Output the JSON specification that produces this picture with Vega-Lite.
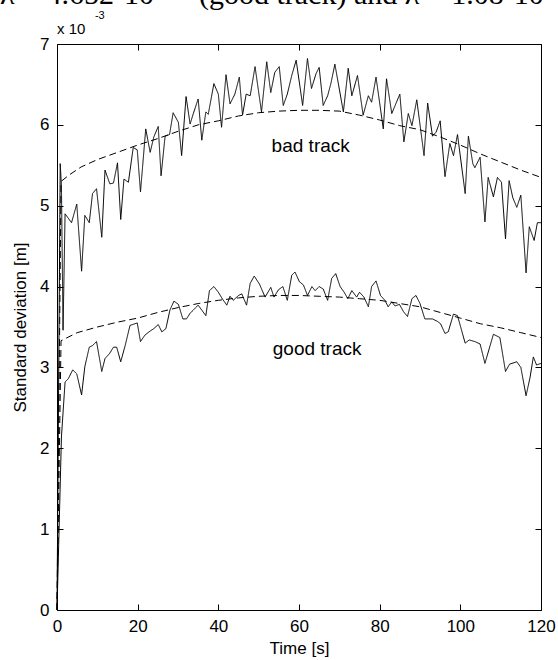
{
  "$schema": "https://vega.github.io/schema/vega-lite/v6.json",
  "width": 484,
  "height": 566,
  "autosize": {"type": "none"},
  "padding": {"left": 57, "top": 44, "right": 17, "bottom": 50},
  "background": "white",
  "title": {
    "text": "λ = 4.652·10\u00a0\u00a0\u00a0\u00a0\u00a0 (good track) and λ = 1.08·10",
    "anchor": "start",
    "frame": "group",
    "font": "Liberation Serif",
    "fontSize": 30,
    "fontWeight": "normal",
    "color": "black",
    "baseline": "alphabetic",
    "offset": 0,
    "dx": -57,
    "dy": 24
  },
  "config": {
    "view": {"stroke": null},
    "axis": {
      "domainColor": "black",
      "tickColor": "black",
      "labelColor": "black",
      "titleColor": "black",
      "labelFont": "Liberation Sans",
      "titleFont": "Liberation Sans",
      "labelFontSize": 17,
      "titleFontSize": 17,
      "titleFontWeight": "normal",
      "grid": false,
      "tickSize": -6,
      "domainWidth": 1,
      "tickWidth": 1
    }
  },
  "datasets": {
    "series": [
      {"s":"bad","t":0,"v":0},{"s":"bad","t":0.8,"v":5.52},{"s":"bad","t":1.1,"v":5.25},{"s":"bad","t":1.5,"v":3.46},{"s":"bad","t":2.0,"v":4.90},{"s":"bad","t":3.6,"v":4.79},{"s":"bad","t":4.9,"v":5.02},{"s":"bad","t":6.1,"v":4.19},{"s":"bad","t":6.9,"v":4.88},{"s":"bad","t":8.0,"v":4.79},{"s":"bad","t":8.8,"v":5.15},{"s":"bad","t":9.8,"v":5.21},{"s":"bad","t":11.1,"v":4.61},{"s":"bad","t":11.9,"v":5.44},{"s":"bad","t":13.1,"v":5.27},{"s":"bad","t":14.0,"v":5.28},{"s":"bad","t":15.0,"v":5.53},{"s":"bad","t":15.8,"v":4.83},{"s":"bad","t":16.6,"v":5.33},{"s":"bad","t":17.7,"v":5.29},{"s":"bad","t":18.9,"v":5.72},{"s":"bad","t":19.9,"v":5.69},{"s":"bad","t":20.7,"v":5.17},{"s":"bad","t":22.0,"v":5.95},{"s":"bad","t":23.1,"v":5.66},{"s":"bad","t":24.0,"v":5.85},{"s":"bad","t":25.1,"v":5.98},{"s":"bad","t":25.8,"v":5.37},{"s":"bad","t":26.8,"v":5.86},{"s":"bad","t":27.9,"v":5.88},{"s":"bad","t":28.8,"v":6.15},{"s":"bad","t":30.1,"v":6.03},{"s":"bad","t":30.9,"v":5.62},{"s":"bad","t":32.0,"v":6.35},{"s":"bad","t":33.0,"v":6.01},{"s":"bad","t":33.8,"v":6.14},{"s":"bad","t":35.0,"v":6.32},{"s":"bad","t":35.9,"v":5.81},{"s":"bad","t":36.9,"v":6.16},{"s":"bad","t":37.5,"v":6.13},{"s":"bad","t":38.9,"v":6.51},{"s":"bad","t":40.0,"v":6.38},{"s":"bad","t":40.8,"v":5.97},{"s":"bad","t":41.9,"v":6.62},{"s":"bad","t":42.9,"v":6.26},{"s":"bad","t":44.1,"v":6.38},{"s":"bad","t":45.2,"v":6.59},{"s":"bad","t":46.0,"v":6.12},{"s":"bad","t":46.9,"v":6.38},{"s":"bad","t":47.9,"v":6.36},{"s":"bad","t":49.1,"v":6.72},{"s":"bad","t":50.7,"v":6.16},{"s":"bad","t":52.0,"v":6.78},{"s":"bad","t":53.0,"v":6.40},{"s":"bad","t":54.0,"v":6.65},{"s":"bad","t":55.1,"v":6.72},{"s":"bad","t":56.1,"v":6.24},{"s":"bad","t":57.1,"v":6.38},{"s":"bad","t":58.2,"v":6.61},{"s":"bad","t":59.3,"v":6.80},{"s":"bad","t":60.9,"v":6.24},{"s":"bad","t":62.1,"v":6.82},{"s":"bad","t":63.1,"v":6.45},{"s":"bad","t":64.2,"v":6.63},{"s":"bad","t":65.0,"v":6.71},{"s":"bad","t":66.0,"v":6.24},{"s":"bad","t":67.1,"v":6.36},{"s":"bad","t":67.9,"v":6.51},{"s":"bad","t":68.9,"v":6.75},{"s":"bad","t":71.0,"v":6.16},{"s":"bad","t":72.2,"v":6.70},{"s":"bad","t":73.1,"v":6.36},{"s":"bad","t":74.5,"v":6.61},{"s":"bad","t":75.9,"v":6.12},{"s":"bad","t":77.2,"v":6.36},{"s":"bad","t":78.0,"v":6.28},{"s":"bad","t":79.1,"v":6.59},{"s":"bad","t":80.9,"v":5.95},{"s":"bad","t":81.7,"v":6.57},{"s":"bad","t":83.0,"v":6.14},{"s":"bad","t":85.0,"v":6.38},{"s":"bad","t":86.0,"v":5.79},{"s":"bad","t":87.1,"v":6.14},{"s":"bad","t":88.0,"v":5.99},{"s":"bad","t":89.2,"v":6.31},{"s":"bad","t":91.0,"v":5.62},{"s":"bad","t":91.9,"v":6.27},{"s":"bad","t":93.1,"v":5.86},{"s":"bad","t":94.0,"v":5.91},{"s":"bad","t":95.0,"v":6.05},{"s":"bad","t":96.2,"v":5.36},{"s":"bad","t":97.4,"v":5.77},{"s":"bad","t":98.3,"v":5.62},{"s":"bad","t":99.3,"v":5.88},{"s":"bad","t":101.2,"v":5.15},{"s":"bad","t":102.0,"v":5.86},{"s":"bad","t":103.1,"v":5.52},{"s":"bad","t":103.6,"v":5.47},{"s":"bad","t":104.9,"v":5.60},{"s":"bad","t":106.1,"v":4.80},{"s":"bad","t":106.9,"v":5.35},{"s":"bad","t":108.2,"v":5.11},{"s":"bad","t":109.2,"v":5.35},{"s":"bad","t":110.2,"v":5.29},{"s":"bad","t":111.2,"v":4.59},{"s":"bad","t":112.1,"v":5.31},{"s":"bad","t":113.0,"v":5.10},{"s":"bad","t":114.0,"v":4.98},{"s":"bad","t":115.0,"v":5.13},{"s":"bad","t":116.3,"v":4.17},{"s":"bad","t":117.1,"v":4.74},{"s":"bad","t":118.3,"v":4.57},{"s":"bad","t":119.1,"v":4.79},{"s":"bad","t":120.0,"v":4.79},
      {"s":"good","t":0,"v":0},{"s":"good","t":1.1,"v":2.14},{"s":"good","t":2.0,"v":2.82},{"s":"good","t":2.8,"v":2.86},{"s":"good","t":3.9,"v":2.97},{"s":"good","t":4.9,"v":2.92},{"s":"good","t":6.1,"v":2.66},{"s":"good","t":6.9,"v":3.01},{"s":"good","t":8.0,"v":3.25},{"s":"good","t":8.8,"v":3.27},{"s":"good","t":9.8,"v":3.32},{"s":"good","t":11.1,"v":2.95},{"s":"good","t":11.9,"v":3.11},{"s":"good","t":13.0,"v":3.17},{"s":"good","t":14.0,"v":3.25},{"s":"good","t":14.8,"v":3.25},{"s":"good","t":15.8,"v":3.07},{"s":"good","t":16.9,"v":3.27},{"s":"good","t":18.1,"v":3.52},{"s":"good","t":19.9,"v":3.55},{"s":"good","t":20.7,"v":3.32},{"s":"good","t":21.8,"v":3.40},{"s":"good","t":23.1,"v":3.45},{"s":"good","t":24.0,"v":3.48},{"s":"good","t":25.1,"v":3.53},{"s":"good","t":26.0,"v":3.44},{"s":"good","t":27.0,"v":3.48},{"s":"good","t":28.0,"v":3.71},{"s":"good","t":29.0,"v":3.82},{"s":"good","t":30.1,"v":3.78},{"s":"good","t":31.2,"v":3.60},{"s":"good","t":32.1,"v":3.60},{"s":"good","t":33.0,"v":3.67},{"s":"good","t":33.8,"v":3.71},{"s":"good","t":35.0,"v":3.77},{"s":"good","t":36.9,"v":3.64},{"s":"good","t":37.8,"v":3.95},{"s":"good","t":38.9,"v":4.00},{"s":"good","t":40.0,"v":3.93},{"s":"good","t":41.1,"v":3.84},{"s":"good","t":42.1,"v":3.77},{"s":"good","t":42.9,"v":3.88},{"s":"good","t":43.7,"v":3.83},{"s":"good","t":45.0,"v":3.89},{"s":"good","t":45.8,"v":3.91},{"s":"good","t":47.0,"v":3.77},{"s":"good","t":47.9,"v":4.04},{"s":"good","t":48.9,"v":4.13},{"s":"good","t":50.2,"v":4.03},{"s":"good","t":51.6,"v":3.87},{"s":"good","t":53.0,"v":3.99},{"s":"good","t":53.8,"v":3.87},{"s":"good","t":54.9,"v":3.96},{"s":"good","t":56.0,"v":4.00},{"s":"good","t":57.1,"v":3.83},{"s":"good","t":58.2,"v":4.14},{"s":"good","t":59.0,"v":4.18},{"s":"good","t":60.1,"v":4.06},{"s":"good","t":61.1,"v":4.02},{"s":"good","t":62.1,"v":3.89},{"s":"good","t":63.2,"v":4.00},{"s":"good","t":64.0,"v":3.95},{"s":"good","t":65.0,"v":4.00},{"s":"good","t":66.0,"v":3.97},{"s":"good","t":67.1,"v":3.83},{"s":"good","t":68.1,"v":4.10},{"s":"good","t":69.1,"v":4.16},{"s":"good","t":70.2,"v":4.00},{"s":"good","t":71.2,"v":3.93},{"s":"good","t":72.1,"v":3.85},{"s":"good","t":73.1,"v":3.95},{"s":"good","t":74.3,"v":3.87},{"s":"good","t":75.0,"v":3.93},{"s":"good","t":76.1,"v":3.87},{"s":"good","t":77.2,"v":3.75},{"s":"good","t":78.0,"v":4.00},{"s":"good","t":79.1,"v":4.07},{"s":"good","t":80.2,"v":3.89},{"s":"good","t":81.3,"v":3.83},{"s":"good","t":82.1,"v":3.75},{"s":"good","t":83.0,"v":3.81},{"s":"good","t":83.8,"v":3.76},{"s":"good","t":84.9,"v":3.78},{"s":"good","t":85.9,"v":3.69},{"s":"good","t":86.9,"v":3.63},{"s":"good","t":88.0,"v":3.85},{"s":"good","t":89.0,"v":3.89},{"s":"good","t":90.0,"v":3.79},{"s":"good","t":91.2,"v":3.60},{"s":"good","t":93.1,"v":3.60},{"s":"good","t":94.3,"v":3.57},{"s":"good","t":95.1,"v":3.54},{"s":"good","t":96.2,"v":3.42},{"s":"good","t":97.0,"v":3.44},{"s":"good","t":98.3,"v":3.66},{"s":"good","t":99.3,"v":3.64},{"s":"good","t":101.2,"v":3.30},{"s":"good","t":102.2,"v":3.34},{"s":"good","t":103.6,"v":3.32},{"s":"good","t":104.9,"v":3.29},{"s":"good","t":106.1,"v":3.05},{"s":"good","t":108.2,"v":3.41},{"s":"good","t":109.8,"v":3.37},{"s":"good","t":111.2,"v":2.95},{"s":"good","t":112.2,"v":3.04},{"s":"good","t":114.0,"v":3.07},{"s":"good","t":115.0,"v":3.00},{"s":"good","t":116.3,"v":2.65},{"s":"good","t":117.3,"v":2.88},{"s":"good","t":118.1,"v":3.13},{"s":"good","t":118.9,"v":3.03},{"s":"good","t":120.0,"v":3.05},
      {"s":"badFit","t":0,"v":0},{"s":"badFit","t":1,"v":5.30},{"s":"badFit","t":3,"v":5.38},{"s":"badFit","t":6,"v":5.48},{"s":"badFit","t":10,"v":5.57},{"s":"badFit","t":15,"v":5.66},{"s":"badFit","t":20,"v":5.75},{"s":"badFit","t":25,"v":5.83},{"s":"badFit","t":30,"v":5.92},{"s":"badFit","t":35,"v":6.00},{"s":"badFit","t":40,"v":6.05},{"s":"badFit","t":45,"v":6.11},{"s":"badFit","t":50,"v":6.15},{"s":"badFit","t":55,"v":6.17},{"s":"badFit","t":60,"v":6.18},{"s":"badFit","t":65,"v":6.18},{"s":"badFit","t":70,"v":6.17},{"s":"badFit","t":75,"v":6.12},{"s":"badFit","t":80,"v":6.06},{"s":"badFit","t":85,"v":5.99},{"s":"badFit","t":90,"v":5.94},{"s":"badFit","t":95,"v":5.85},{"s":"badFit","t":100,"v":5.75},{"s":"badFit","t":105,"v":5.64},{"s":"badFit","t":110,"v":5.54},{"s":"badFit","t":115,"v":5.44},{"s":"badFit","t":120,"v":5.35},
      {"s":"goodFit","t":0,"v":0},{"s":"goodFit","t":1,"v":3.33},{"s":"goodFit","t":5,"v":3.43},{"s":"goodFit","t":10,"v":3.50},{"s":"goodFit","t":15,"v":3.56},{"s":"goodFit","t":20,"v":3.61},{"s":"goodFit","t":25,"v":3.68},{"s":"goodFit","t":30,"v":3.74},{"s":"goodFit","t":35,"v":3.79},{"s":"goodFit","t":40,"v":3.83},{"s":"goodFit","t":45,"v":3.86},{"s":"goodFit","t":50,"v":3.88},{"s":"goodFit","t":55,"v":3.89},{"s":"goodFit","t":60,"v":3.89},{"s":"goodFit","t":65,"v":3.88},{"s":"goodFit","t":70,"v":3.87},{"s":"goodFit","t":75,"v":3.85},{"s":"goodFit","t":80,"v":3.83},{"s":"goodFit","t":85,"v":3.79},{"s":"goodFit","t":90,"v":3.75},{"s":"goodFit","t":95,"v":3.68},{"s":"goodFit","t":100,"v":3.61},{"s":"goodFit","t":105,"v":3.54},{"s":"goodFit","t":110,"v":3.49},{"s":"goodFit","t":115,"v":3.43},{"s":"goodFit","t":120,"v":3.37}
    ],
    "labels": [
      {"label": "bad track", "t": 62.9, "v": 5.66},
      {"label": "good track", "t": 64.5, "v": 3.15}
    ],
    "mult": [{"label": "x 10", "t": 0, "v": 7.12}],
    "expo": [{"label": "-3", "t": 9.4, "v": 7.31}]
  },
  "layer": [
    {
      "data": {"name": "series"},
      "mark": {"type": "line", "strokeWidth": 1, "color": "black"},
      "encoding": {
        "x": {"field": "t", "type": "quantitative", "scale": {"domain": [0, 120], "nice": false},
          "axis": {"orient": "bottom", "title": "Time [s]", "values": [0,20,40,60,80,100,120], "labelPadding": 14, "titlePadding": 6, "labelFlush": false, "labelOverlap": false}},
        "y": {"field": "v", "type": "quantitative", "scale": {"domain": [0, 7], "nice": false},
          "axis": {"orient": "left", "title": "Standard deviation [m]", "values": [0,1,2,3,4,5,6,7], "labelPadding": 14, "titlePadding": 10}},
        "detail": {"field": "s"},
        "strokeDash": {"field": "s", "type": "nominal", "legend": null,
          "scale": {"domain": ["bad", "badFit", "good", "goodFit"], "range": [[1, 0], [7, 4], [1, 0], [7, 4]]}}
      }
    },
    {
      "data": {"name": "labels"},
      "mark": {"type": "text", "font": "Liberation Sans", "fontSize": 19, "color": "black", "align": "center", "baseline": "alphabetic"},
      "encoding": {
        "x": {"field": "t", "type": "quantitative", "axis": {"orient": "top", "labels": false, "title": null, "values": [0,20,40,60,80,100,120]}},
        "y": {"field": "v", "type": "quantitative", "axis": {"orient": "right", "labels": false, "title": null, "values": [0,1,2,3,4,5,6,7]}},
        "text": {"field": "label"}
      }
    },
    {
      "data": {"name": "mult"},
      "mark": {"type": "text", "font": "Liberation Sans", "fontSize": 15, "color": "black", "align": "left", "baseline": "alphabetic", "clip": false},
      "encoding": {
        "x": {"field": "t", "type": "quantitative", "axis": null},
        "y": {"field": "v", "type": "quantitative", "axis": null},
        "text": {"field": "label"}
      }
    },
    {
      "data": {"name": "expo"},
      "mark": {"type": "text", "font": "Liberation Sans", "fontSize": 11, "color": "black", "align": "left", "baseline": "alphabetic", "clip": false},
      "encoding": {
        "x": {"field": "t", "type": "quantitative", "axis": null},
        "y": {"field": "v", "type": "quantitative", "axis": null},
        "text": {"field": "label"}
      }
    }
  ],
  "resolve": {"axis": {"x": "independent", "y": "independent"}}
}
